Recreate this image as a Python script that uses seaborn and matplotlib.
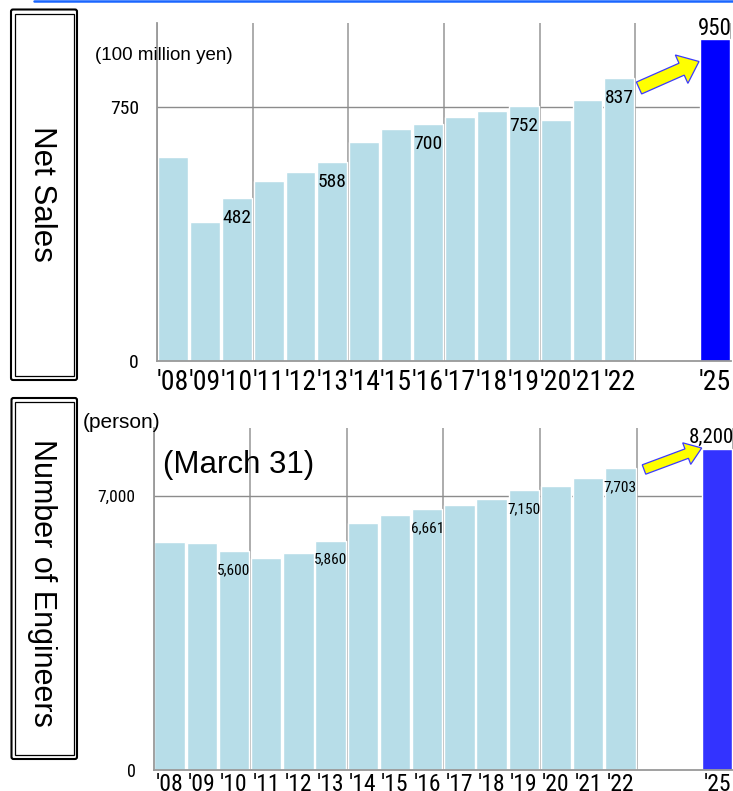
import os
import numpy as np
import pandas as pd
import matplotlib
matplotlib.use("Agg")
import matplotlib.pyplot as plt
import seaborn as sns
from matplotlib import font_manager, transforms
from matplotlib.font_manager import FontProperties
from matplotlib.patches import FancyArrow, FancyBboxPatch
from matplotlib.lines import Line2D

# ---- data -----------------------------------------------------------------
years = ["'08", "'09", "'10", "'11", "'12", "'13", "'14", "'15", "'16",
         "'17", "'18", "'19", "'20", "'21", "'22", "'23", "'24", "'25"]
year_labels = ["'08", "'09", "'10", "'11", "'12", "'13", "'14", "'15", "'16",
               "'17", "'18", "'19", "'20", "'21", "'22", "", "", "'25"]
data_years = ["'08", "'09", "'10", "'11", "'12", "'13", "'14", "'15", "'16",
              "'17", "'18", "'19", "'20", "'21", "'22", "'25"]
kinds = ["actual"] * 15 + ["plan"]

net_sales = [603, 412, 482, 531, 558, 588, 646, 686, 700, 721, 739, 752,
             712, 770, 837, 950]          # 100 million yen
engineers = [5815, 5792, 5600, 5417, 5537, 5860, 6316, 6510, 6661, 6765,
             6919, 7150, 7266, 7468, 7703, 8200]  # persons, March 31

labelled_years = ["'10", "'13", "'16", "'19", "'22"]
sales_ticks = [0, 750]
eng_ticks = [0, 7000]

# ---- style ------------------------------------------------------------------
sns.set_theme(style="white")
plt.rcParams["font.family"] = ["Liberation Sans", "DejaVu Sans"]
for key in ("text.color", "axes.labelcolor", "xtick.color", "ytick.color"):
    plt.rcParams[key] = "black"


def find_narrow_font():
    """Pick a regular-weight narrow/condensed sans face if one is installed."""
    wanted = ["LiberationSansNarrow-Regular", "ArialNarrow", "arialn.ttf",
              "RobotoCondensed-Regular", "NotoSans-Condensed.", "NotoSans-SemiCondensed.",
              "DejaVuSansCondensed.", "OpenSans_Condensed-Regular",
              "OpenSans-CondensedRegular", "NotoSans-ExtraCondensed."]
    files = [e.fname for e in font_manager.fontManager.ttflist]
    for key in wanted:
        for f in files:
            if key in os.path.basename(f):
                return f
    for e in font_manager.fontManager.ttflist:
        base = os.path.basename(e.fname)
        if (("Narrow" in base or "Condensed" in base) and e.style == "normal"
                and e.weight in (400, "normal", "regular")):
            return e.fname
    return None


NARROW_FILE = find_narrow_font()
NARROW_SCALE = 1.0 if NARROW_FILE else 0.8


def nf(size):
    if NARROW_FILE:
        return FontProperties(fname=NARROW_FILE, size=size)
    return FontProperties(family="Liberation Sans", size=size * NARROW_SCALE)


W, H = 733, 791
fig = plt.figure(figsize=(W / 100, H / 100), dpi=100)
px = transforms.Affine2D().scale(1, -1).translate(0, H)  # pixel coords, y down

LIGHT = "#B7DDE8"
GRID_V = "#A6A6A6"
GRID_H = "#8C8C8C"


def fx(x):
    return x / W


def fy(y):
    return 1 - y / H


def panel(rect, values, plan_color, ymax, ticks, tick_sizes, xsize, xpad):
    ax = fig.add_axes(rect)
    df = pd.DataFrame({"year": data_years, "value": values, "kind": kinds})
    sns.barplot(data=df, x="year", y="value", hue="kind", order=years,
                hue_order=["actual", "plan"],
                palette={"actual": LIGHT, "plan": plan_color},
                dodge=False, width=0.94, saturation=1, legend=False, ax=ax,
                zorder=2)
    ax.set_xlim(-0.5, len(years) - 0.5)
    ax.set_ylim(0, ymax)
    ax.set_axisbelow(True)
    for x in np.arange(-0.5, len(years), 3):
        ax.axvline(x, color=GRID_V, lw=1.3, zorder=0)
    ax.axhline(ticks[1], color=GRID_H, lw=1.0, zorder=0)
    ax.set_xticks(range(len(years)))
    ax.set_xticklabels(year_labels)
    for lbl in ax.get_xticklabels():
        lbl.set_fontproperties(nf(xsize))
    ax.set_yticks(ticks)
    ax.set_yticklabels([f"{t:,}" for t in ticks])
    for lbl, s in zip(ax.get_yticklabels(), tick_sizes):
        lbl.set_fontproperties(nf(s))
    ax.tick_params(axis="both", length=0, colors="black")
    ax.tick_params(axis="x", pad=xpad)
    ax.tick_params(axis="y", pad=13)
    ax.set_xlabel("")
    ax.set_ylabel("")
    for side in ("top", "right"):
        ax.spines[side].set_visible(False)
    for side in ("left", "bottom"):
        ax.spines[side].set_color("#999999")
        ax.spines[side].set_linewidth(1.3)
    ax.patch.set_alpha(0)
    return ax


# ---- net sales panel --------------------------------------------------------
ax1 = panel([fx(157), fy(361), (731 - 157) / W, (361 - 22.5) / H],
            net_sales, "#0000FF", 1000, sales_ticks, [14, 14], 20, 6)
for y, v in zip(data_years, net_sales):
    i = years.index(y)
    if y in labelled_years:
        ax1.annotate(f"{v:,}", (i, v), xytext=(0, -20), textcoords="offset pixels",
                     ha="center", va="center", fontproperties=nf(14),
                     color="black", zorder=5)
    elif y == "'25":
        ax1.annotate(f"{v:,}", (i, v), xytext=(0, 4), textcoords="offset pixels",
                     ha="center", va="baseline", fontproperties=nf(16.5),
                     color="black", annotation_clip=False, zorder=5)

# ---- engineers panel --------------------------------------------------------
ax2 = panel([fx(153.5), fy(770), (733.1 - 153.5) / W, (770 - 427.5) / H],
            engineers, "#3333FF", 8750, eng_ticks, [13, 12.5], 17, 2)
for y, v in zip(data_years, engineers):
    i = years.index(y)
    if y in labelled_years:
        ax2.annotate(f"{v:,}", (i, v), xytext=(0, -19), textcoords="offset pixels",
                     ha="center", va="center", fontproperties=nf(11),
                     color="black", zorder=5)
    elif y == "'25":
        ax2.annotate(f"{v:,}", (i, v), xytext=(-6, 6), textcoords="offset pixels",
                     ha="center", va="baseline", fontproperties=nf(15),
                     color="black", annotation_clip=False, zorder=5)

# ---- units and notes --------------------------------------------------------
fig.text(fx(95), fy(55), "(100 million yen)", fontsize=13.5, ha="left",
         va="center")
fig.text(fx(83), fy(422), "(person)", fontsize=15, ha="left", va="center")
fig.text(fx(163), fy(465), "(March 31)", fontsize=22.5, ha="left", va="center")

# ---- side captions in double-framed boxes -----------------------------------
for (x0, y0, x1, y1), (ix0, iy0, ix1, iy1) in [
        ((11, 9.5, 77, 380), (14.5, 13.5, 73.5, 376)),
        ((11.5, 398, 77, 759), (15, 402, 73.5, 755))]:
    fig.add_artist(FancyBboxPatch((x0, y0), x1 - x0, y1 - y0,
                                  boxstyle="round,pad=0,rounding_size=2",
                                  fc="white", ec="black", lw=1.5, transform=px))
    fig.add_artist(FancyBboxPatch((ix0, iy0), ix1 - ix0, iy1 - iy0,
                                  boxstyle="square,pad=0",
                                  fc="none", ec="black", lw=0.9, transform=px))

fig.text(fx(42), fy(194), "Net Sales", rotation=-90, fontsize=22.5,
         ha="center", va="center")
fig.text(fx(42), fy(583), "Number of Engineers", rotation=-90, fontsize=22,
         ha="center", va="center")

# ---- growth arrows ----------------------------------------------------------
for (xa, ya), (xb, yb), w, hw, hl in [
        ((639, 88), (699, 61.5), 13, 31, 19),
        ((644, 469.5), (701.7, 448), 10, 23, 16)]:
    fig.add_artist(FancyArrow(xa, ya, xb - xa, yb - ya, width=w, head_width=hw,
                              head_length=hl, length_includes_head=True,
                              fc="#FFFF00", ec="#3B3BFF", lw=0.9, transform=px,
                              zorder=6))

# ---- header rule ------------------------------------------------------------
fig.add_artist(Line2D([34, 733], [1, 1], color="#1A66FF", lw=1.8, transform=px))

fig.savefig("out.png", dpi=100)
